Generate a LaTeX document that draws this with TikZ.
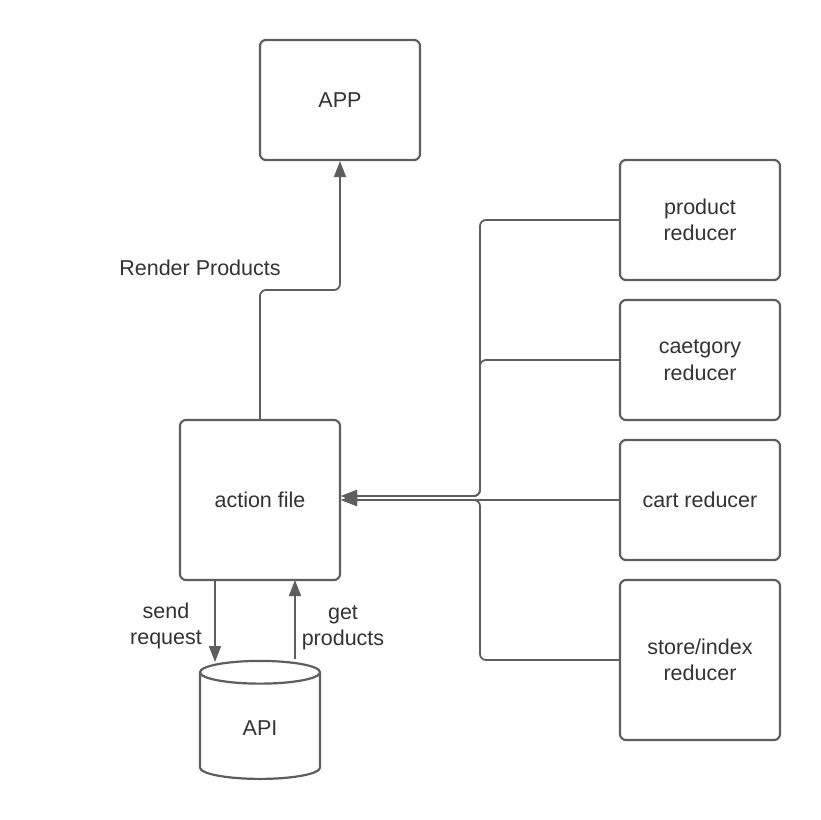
\documentclass[tikz,border=0pt]{standalone}
\usepackage{fontspec}
\setmainfont{Liberation Sans}
\usetikzlibrary{arrows.meta,shapes.geometric}
\definecolor{linegray}{HTML}{5E5E5E}
\definecolor{textgray}{HTML}{333333}
\tikzset{
  box/.style = {draw=linegray, line width=2.2pt, rounded corners=6pt, fill=white,
    minimum width=160pt, minimum height=120pt, align=center, text=textgray, font=\fontsize{21.5}{26.5}\selectfont},
  tallbox/.style = {box, minimum height=160pt},
  db/.style = {cylinder, shape border rotate=90, aspect=0.55, draw=linegray, line width=2.2pt,
    minimum width=120pt, minimum height=118pt, text=textgray, font=\fontsize{21.5}{26.5}\selectfont},
  link/.style = {draw=linegray, line width=1.8pt, rounded corners=6pt, -{Triangle[length=16pt,width=12pt]}},
  tag/.style = {text=textgray, align=center, font=\fontsize{21.5}{26.5}\selectfont}
}
\begin{document}
\begin{tikzpicture}[x=1pt,y=-1pt]
  \useasboundingbox (0,0) rectangle (820,820);
  \node [box] (app) at (340,100) {APP};
  \node [tallbox] (action) at (260,500) {action file};
  \node [box] (productred) at (700,220) {product\\reducer};
  \node [box] (categoryred) at (700,360) {caetgory\\reducer};
  \node [box] (cartred) at (700,500) {cart reducer};
  \node [tallbox] (storered) at (700,660) {store/index\\reducer};
  \node [db] (api) at (260,728) {API};

  \draw [link] (action.north) -- (260,290) -- (340,290) -- (app.south);
  \draw [link] (215,580) -- (215,662);
  \draw [link] (295,659) -- (295,580);

  \draw [link] (productred.west) -- (480,220) -- (480,496) -- ([yshift=4pt]action.east);
  \draw [link] (categoryred.west) -- (480,360) -- (480,496) -- ([yshift=4pt]action.east);
  \draw [link] (cartred.west) -- (action.east);
  \draw [link] (storered.west) -- (480,660) -- (480,500) -- (action.east);

  \node [tag] (render) at (200,268) {Render Products};
  \node [tag] (send) at (166,626) {send\\request};
  \node [tag] (get) at (343,628) {get\\products};
\end{tikzpicture}
\end{document}
